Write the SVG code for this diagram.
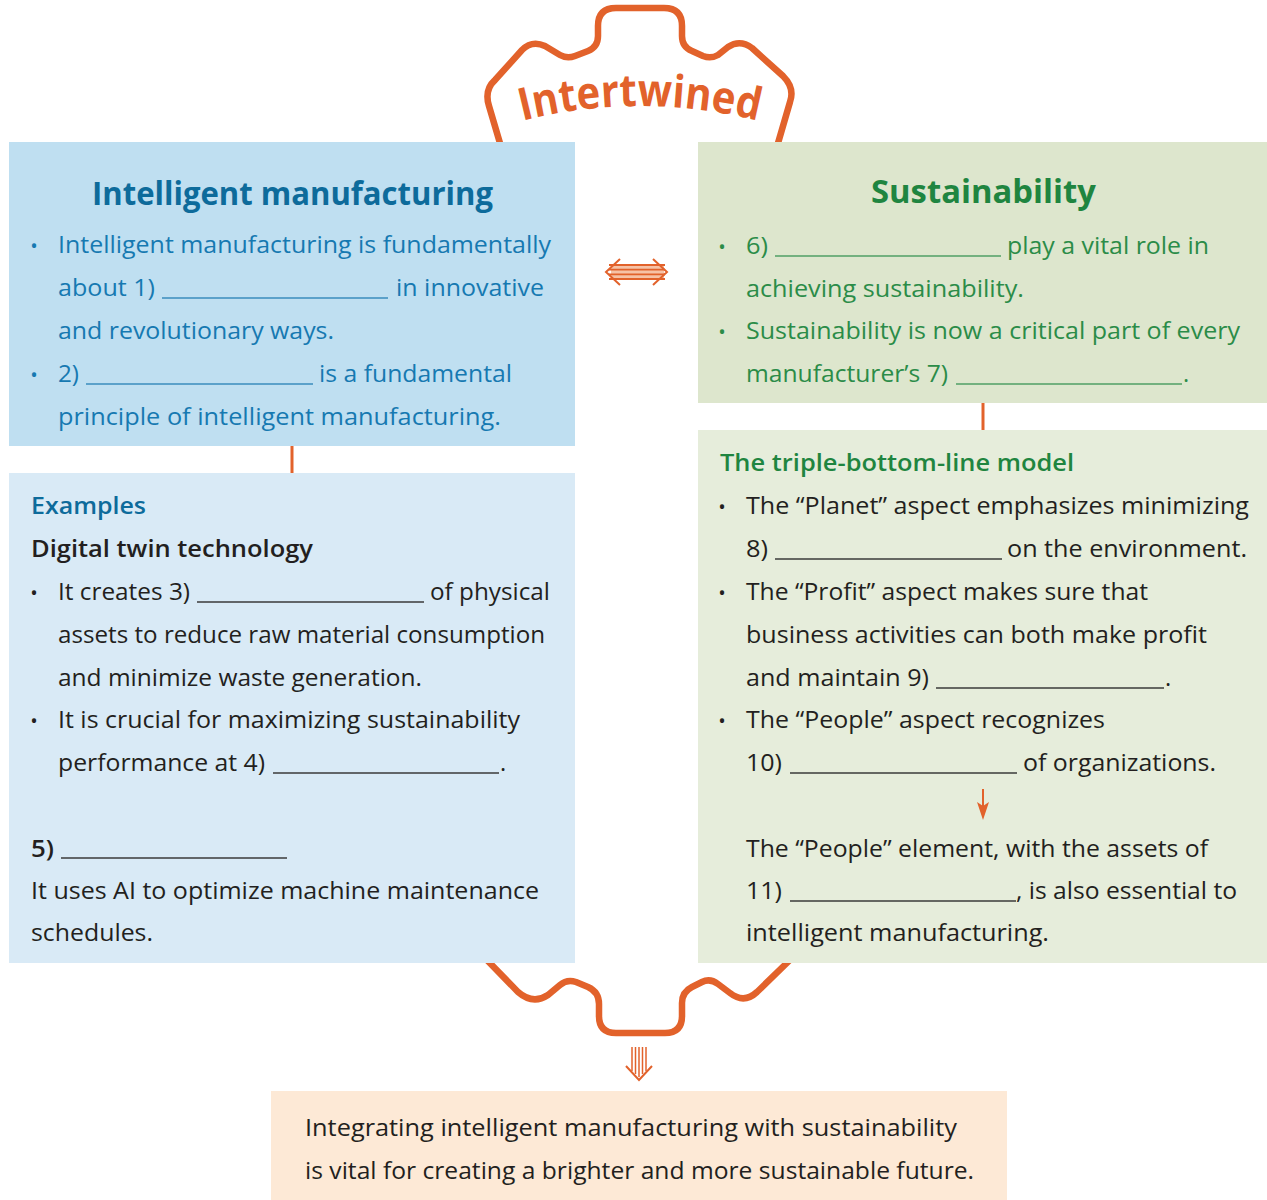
<svg xmlns="http://www.w3.org/2000/svg" xmlns:xlink="http://www.w3.org/1999/xlink" width="1267" height="1200" viewBox="0 0 1267 1200">
  <style>
    text { font-family: "Open Sans", "Noto Sans", "Liberation Sans", sans-serif; font-size: 23.5px; }
    .title { font-size: 32px; font-weight: 700; }
    .head { font-weight: 600; }
    .blueT { fill: #0d6b9b; }
    .blue { fill: #1679b1; }
    .greenT { fill: #1f8540; }
    .green { fill: #2b8c48; }
    .dark { fill: #231f20; }
    .bul { font-size: 20px; text-anchor: middle; }
    .ulB { stroke: #3a8cbd; stroke-width: 1.4; }
    .ulG { stroke: #4f9f65; stroke-width: 1.4; }
    .ulD { stroke: #3a3a3a; stroke-width: 1.4; }
    .gear { fill: none; stroke: #e2622b; stroke-width: 6.5; stroke-linejoin: round; stroke-linecap: round; }
    .conn { stroke: #e2622b; fill: none; }
  </style>
  <defs>
    <path id="arcTop" d="M 500 127 A 479 479 0 0 1 780 127" fill="none"/>
  </defs>

  <rect width="1267" height="1200" fill="#ffffff"/>

  <!-- gear outline behind the boxes, with its label -->
  <g id="gear">
    <path class="gear" d="M 502 150 L 489 106 Q 484 90 495 80 L 522 50 Q 532 40 545 46 L 560 55 Q 567 59 575 56 L 588 51 Q 598 47 598 36 L 598 26 Q 598 8 616 8 L 664 8 Q 682 8 682 26 L 682 36 Q 682 47 692 51 L 703 56 Q 711 59 718 55 L 728 47 Q 740 39 752 48 L 783 76 Q 795 88 790 102 L 776 150"/>
    <path class="gear" d="M 484 957 L 518 992 Q 533 1005 548 995 L 560 985 Q 567 979 576 982 L 588 987 Q 599 992 599 1004 L 599 1016 Q 599 1033 616 1033 L 665 1033 Q 682 1033 682 1016 L 682 1003 Q 682 992 692 987 L 702 982 Q 710 978 718 984 L 730 993 Q 744 1004 757 992 L 793 957"/>
    <text style="font-size:45px;font-weight:700;fill:#e2622b"><textPath href="#arcTop" xlink:href="#arcTop" startOffset="50%" text-anchor="middle" textLength="238" lengthAdjust="spacingAndGlyphs">Intertwined</textPath></text>
  </g>

  <!-- Intelligent manufacturing -->
  <g id="intelligent-manufacturing">
    <rect x="9" y="142" width="566" height="304" fill="#bfdff1"/>
    <text class="title blueT" x="92" y="205" textLength="401" lengthAdjust="spacingAndGlyphs">Intelligent manufacturing</text>
    <text class="bul blue" x="34" y="253">•</text>
    <text class="blue" x="58" y="253" textLength="493" lengthAdjust="spacingAndGlyphs">Intelligent manufacturing is fundamentally</text>
    <text class="blue" x="58" y="296" textLength="97" lengthAdjust="spacingAndGlyphs">about 1)</text>
    <line class="ulB" x1="162" y1="298" x2="388" y2="298"/>
    <text class="blue" x="396" y="296" textLength="148" lengthAdjust="spacingAndGlyphs">in innovative</text>
    <text class="blue" x="58" y="339" textLength="276" lengthAdjust="spacingAndGlyphs">and revolutionary ways.</text>
    <text class="bul blue" x="34" y="382">•</text>
    <text class="blue" x="58" y="382" textLength="21" lengthAdjust="spacingAndGlyphs">2)</text>
    <line class="ulB" x1="86" y1="384" x2="313" y2="384"/>
    <text class="blue" x="319" y="382" textLength="193" lengthAdjust="spacingAndGlyphs">is a fundamental</text>
    <text class="blue" x="58" y="425" textLength="443" lengthAdjust="spacingAndGlyphs">principle of intelligent manufacturing.</text>
  </g>

  <!-- Examples -->
  <g id="examples">
    <rect x="9" y="473" width="566" height="490" fill="#d9eaf6"/>
    <text class="head blueT" x="31" y="514" textLength="115" lengthAdjust="spacingAndGlyphs">Examples</text>
    <text class="head dark" x="31" y="557" textLength="282" lengthAdjust="spacingAndGlyphs">Digital twin technology</text>
    <text class="bul dark" x="34" y="600">•</text>
    <text class="dark" x="58" y="600" textLength="132" lengthAdjust="spacingAndGlyphs">It creates 3)</text>
    <line class="ulD" x1="197" y1="602" x2="424" y2="602"/>
    <text class="dark" x="430" y="600" textLength="120" lengthAdjust="spacingAndGlyphs">of physical</text>
    <text class="dark" x="58" y="643" textLength="487" lengthAdjust="spacingAndGlyphs">assets to reduce raw material consumption</text>
    <text class="dark" x="58" y="686" textLength="364" lengthAdjust="spacingAndGlyphs">and minimize waste generation.</text>
    <text class="bul dark" x="34" y="728">•</text>
    <text class="dark" x="58" y="728" textLength="462" lengthAdjust="spacingAndGlyphs">It is crucial for maximizing sustainability</text>
    <text class="dark" x="58" y="771" textLength="207" lengthAdjust="spacingAndGlyphs">performance at 4)</text>
    <line class="ulD" x1="273" y1="773" x2="499" y2="773"/>
    <text class="dark" x="500" y="771">.</text>
    <text class="head dark" x="31" y="857" textLength="23" lengthAdjust="spacingAndGlyphs">5)</text>
    <line class="ulD" x1="61" y1="858" x2="287" y2="858"/>
    <text class="dark" x="31" y="899" textLength="508" lengthAdjust="spacingAndGlyphs">It uses AI to optimize machine maintenance</text>
    <text class="dark" x="31" y="941" textLength="122" lengthAdjust="spacingAndGlyphs">schedules.</text>
  </g>

  <!-- Sustainability -->
  <g id="sustainability">
    <rect x="698" y="142" width="569" height="261" fill="#dde6cd"/>
    <text class="title greenT" x="871" y="203" textLength="225" lengthAdjust="spacingAndGlyphs">Sustainability</text>
    <text class="bul green" x="722" y="254">•</text>
    <text class="green" x="746" y="254" textLength="22" lengthAdjust="spacingAndGlyphs">6)</text>
    <line class="ulG" x1="775" y1="256" x2="1001" y2="256"/>
    <text class="green" x="1007" y="254" textLength="202" lengthAdjust="spacingAndGlyphs">play a vital role in</text>
    <text class="green" x="746" y="297" textLength="278" lengthAdjust="spacingAndGlyphs">achieving sustainability.</text>
    <text class="bul green" x="722" y="339">•</text>
    <text class="green" x="746" y="339" textLength="494" lengthAdjust="spacingAndGlyphs">Sustainability is now a critical part of every</text>
    <text class="green" x="746" y="382" textLength="202" lengthAdjust="spacingAndGlyphs">manufacturer’s 7)</text>
    <line class="ulG" x1="956" y1="384" x2="1182" y2="384"/>
    <text class="green" x="1183" y="382">.</text>
  </g>

  <!-- The triple-bottom-line model -->
  <g id="triple-bottom-line">
    <rect x="698" y="430" width="569" height="533" fill="#e6eddb"/>
    <text class="head greenT" x="720" y="471" textLength="354" lengthAdjust="spacingAndGlyphs">The triple-bottom-line model</text>
    <text class="bul dark" x="722" y="514">•</text>
    <text class="dark" x="746" y="514" textLength="503" lengthAdjust="spacingAndGlyphs">The “Planet” aspect emphasizes minimizing</text>
    <text class="dark" x="746" y="557" textLength="22" lengthAdjust="spacingAndGlyphs">8)</text>
    <line class="ulD" x1="775" y1="559" x2="1002" y2="559"/>
    <text class="dark" x="1007" y="557" textLength="240" lengthAdjust="spacingAndGlyphs">on the environment.</text>
    <text class="bul dark" x="722" y="600">•</text>
    <text class="dark" x="746" y="600" textLength="402" lengthAdjust="spacingAndGlyphs">The “Profit” aspect makes sure that</text>
    <text class="dark" x="746" y="643" textLength="461" lengthAdjust="spacingAndGlyphs">business activities can both make profit</text>
    <text class="dark" x="746" y="686" textLength="183" lengthAdjust="spacingAndGlyphs">and maintain 9)</text>
    <line class="ulD" x1="936" y1="688" x2="1164" y2="688"/>
    <text class="dark" x="1165" y="686">.</text>
    <text class="bul dark" x="722" y="728">•</text>
    <text class="dark" x="746" y="728" textLength="359" lengthAdjust="spacingAndGlyphs">The “People” aspect recognizes</text>
    <text class="dark" x="746" y="771" textLength="36" lengthAdjust="spacingAndGlyphs">10)</text>
    <line class="ulD" x1="790" y1="773" x2="1017" y2="773"/>
    <text class="dark" x="1023" y="771" textLength="193" lengthAdjust="spacingAndGlyphs">of organizations.</text>
    <text class="dark" x="746" y="857" textLength="462" lengthAdjust="spacingAndGlyphs">The “People” element, with the assets of</text>
    <text class="dark" x="746" y="899" textLength="36" lengthAdjust="spacingAndGlyphs">11)</text>
    <line class="ulD" x1="790" y1="901" x2="1016" y2="901"/>
    <text class="dark" x="1016" y="899" textLength="221" lengthAdjust="spacingAndGlyphs">, is also essential to</text>
    <text class="dark" x="746" y="941" textLength="303" lengthAdjust="spacingAndGlyphs">intelligent manufacturing.</text>
  </g>

  <!-- Conclusion -->
  <g id="conclusion">
    <rect x="271" y="1091" width="736" height="109" fill="#fde9d6"/>
    <text class="dark" x="305" y="1136" textLength="652" lengthAdjust="spacingAndGlyphs">Integrating intelligent manufacturing with sustainability</text>
    <text class="dark" x="305" y="1179" textLength="669" lengthAdjust="spacingAndGlyphs">is vital for creating a brighter and more sustainable future.</text>
  </g>

  <!-- connectors, drawn over the boxes -->
  <g id="connectors">
    <line class="conn" x1="292" y1="446" x2="292" y2="473" stroke-width="3"/>
    <line class="conn" x1="983" y1="403" x2="983" y2="430" stroke-width="3"/>
    <!-- two-way arrow between the top boxes -->
    <g id="double-arrow">
      <rect x="611" y="265" width="53" height="14" fill="#f6c2a6"/>
      <line class="conn" x1="609" y1="265" x2="665" y2="265" stroke-width="1.8"/>
      <line class="conn" x1="609" y1="269.7" x2="665" y2="269.7" stroke-width="1.8"/>
      <line class="conn" x1="609" y1="274.3" x2="665" y2="274.3" stroke-width="1.8"/>
      <line class="conn" x1="609" y1="279" x2="665" y2="279" stroke-width="1.8"/>
      <polyline class="conn" points="620,259 606,272 620,285" stroke-width="2"/>
      <polyline class="conn" points="653,259 667,272 653,285" stroke-width="2"/>
    </g>
    <!-- small arrow inside the triple-bottom-line box -->
    <g id="people-arrow">
      <line class="conn" x1="983" y1="789" x2="983" y2="808" stroke-width="2"/>
      <path d="M 977 802 L 983 820 L 989 802 L 983 806 Z" fill="#e2622b"/>
    </g>
    <!-- striped arrow towards the conclusion -->
    <g id="down-arrow">
      <line class="conn" x1="632" y1="1047" x2="632" y2="1071" stroke-width="1.5"/>
      <line class="conn" x1="635.5" y1="1047" x2="635.5" y2="1074" stroke-width="1.5"/>
      <line class="conn" x1="639" y1="1047" x2="639" y2="1077" stroke-width="1.5"/>
      <line class="conn" x1="642.5" y1="1047" x2="642.5" y2="1074" stroke-width="1.5"/>
      <line class="conn" x1="646" y1="1047" x2="646" y2="1071" stroke-width="1.5"/>
      <polyline class="conn" points="626,1066 639,1080 652,1066" stroke-width="2"/>
    </g>
  </g>
</svg>
